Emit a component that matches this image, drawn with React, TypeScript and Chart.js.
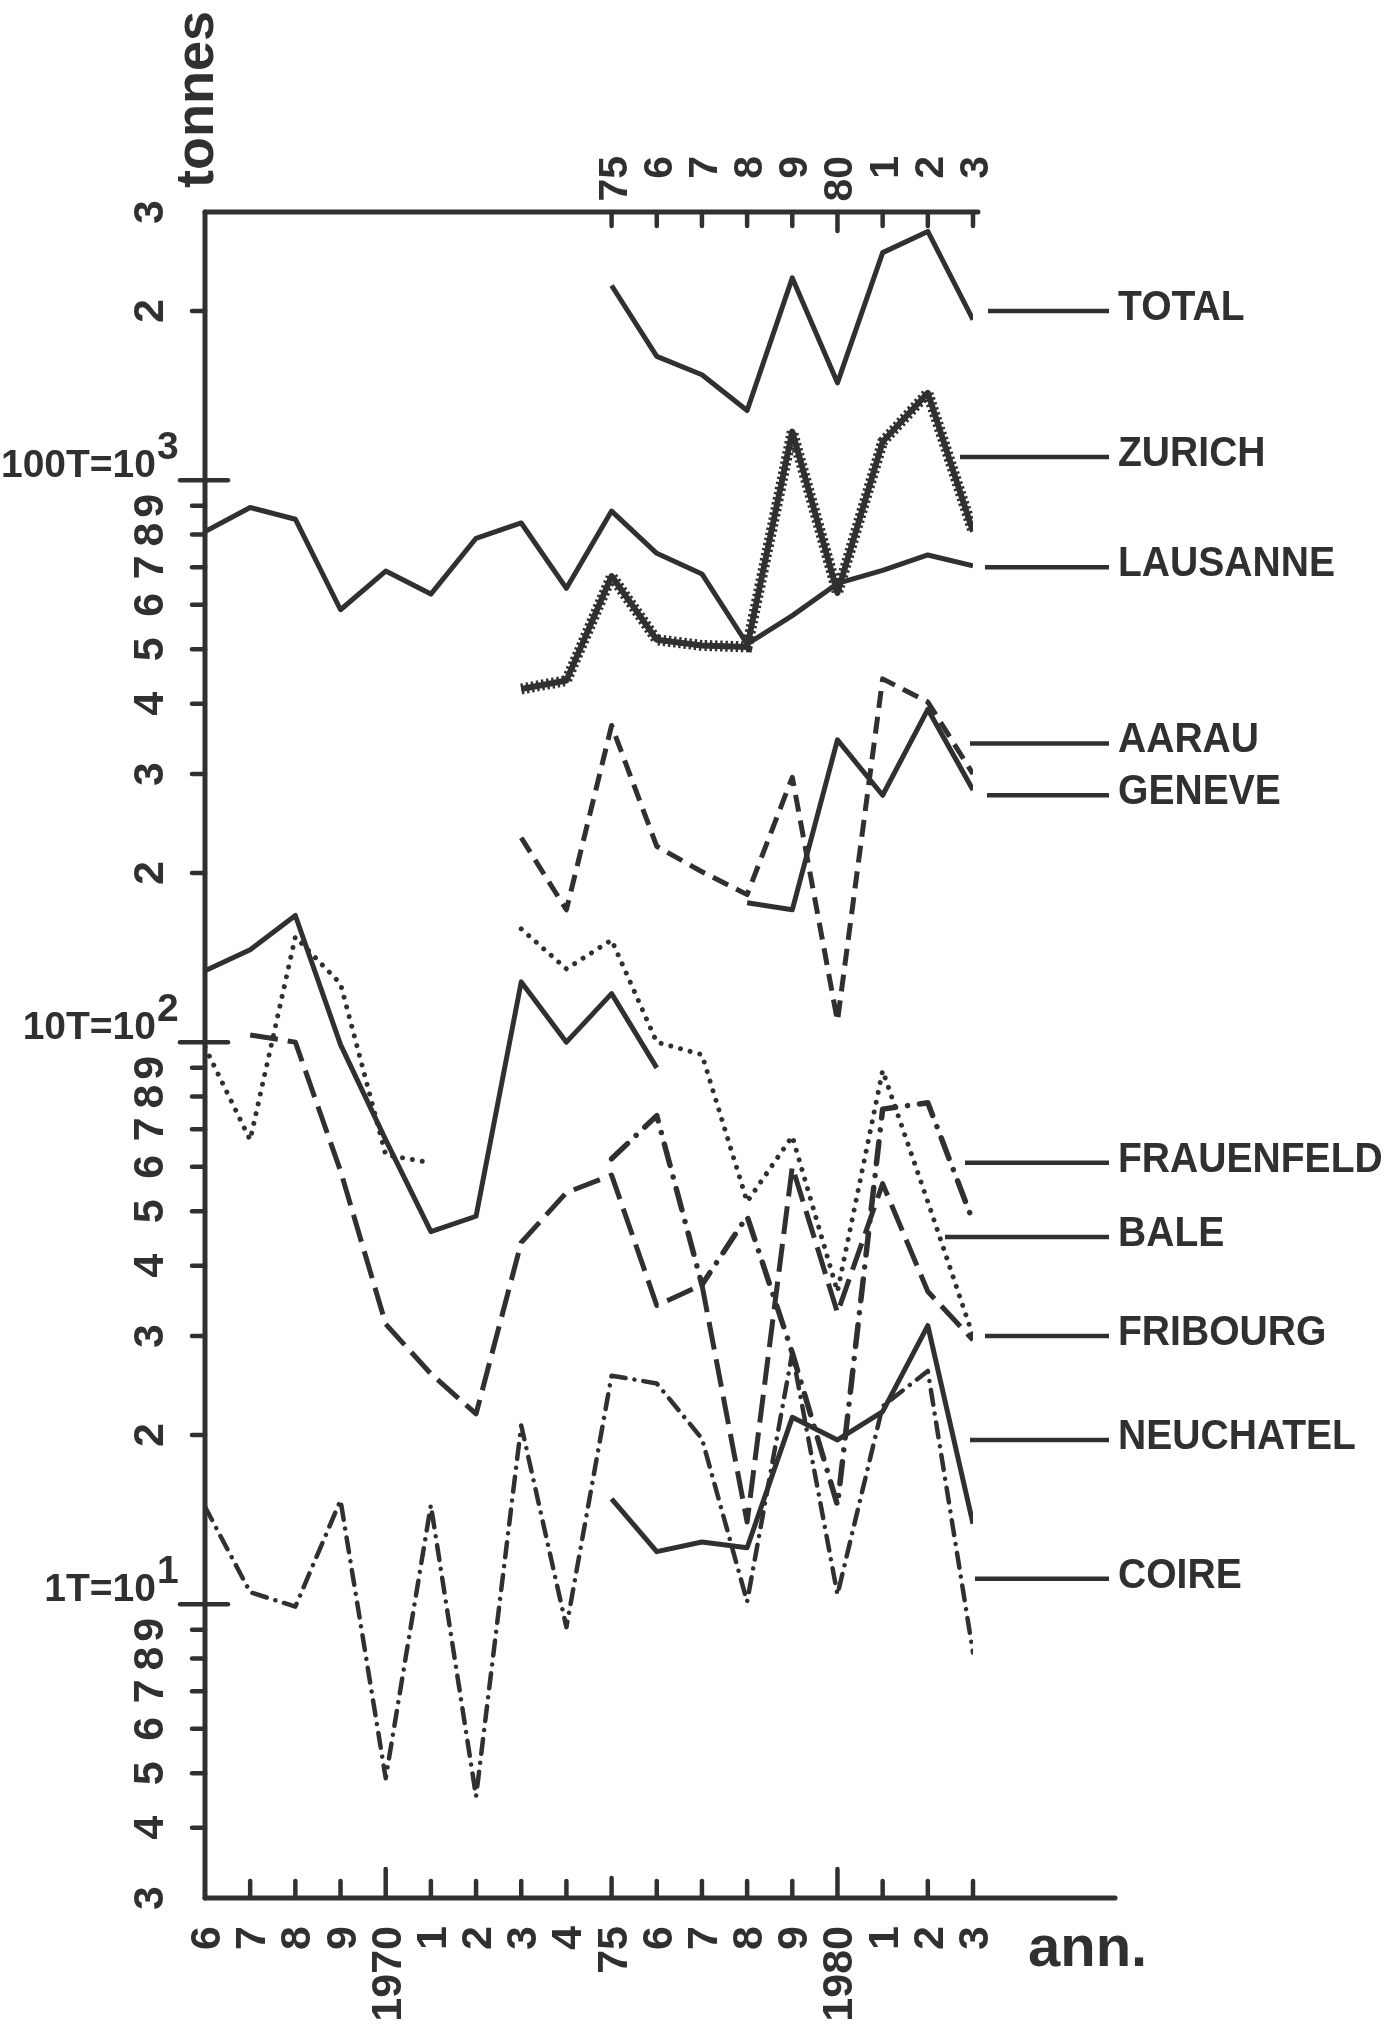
import React, { useEffect, useRef } from "react";
import { Chart, registerables } from "chart.js";

Chart.register(...registerables);

// ---------- data (units: 1 = 100 kg, i.e. 1T = 10^1) ----------
const years = [1966, 1967, 1968, 1969, 1970, 1971, 1972, 1973, 1974, 1975, 1976, 1977, 1978, 1979, 1980, 1981, 1982, 1983];
const bottomTickLabels = ["6", "7", "8", "9", "1970", "1", "2", "3", "4", "75", "6", "7", "8", "9", "1980", "1", "2", "3"];
const topTickYears = [1975, 1976, 1977, 1978, 1979, 1980, 1981, 1982, 1983];
const topTickLabels = ["75", "6", "7", "8", "9", "80", "1", "2", "3"];
const yTickValues = [3, 4, 5, 6, 7, 8, 9, 10, 20, 30, 40, 50, 60, 70, 80, 90, 100, 200, 300, 400, 500, 600, 700, 800, 900, 1000, 2000, 3000];
const yTickLabels = ["3", "4", "5", "6", "7", "8", "9", "1T=10^1", "2", "3", "4", "5", "6", "7", "8", "9", "10T=10^2", "2", "3", "4", "5", "6", "7", "8", "9", "100T=10^3", "2", "3"];

const total = [null, null, null, null, null, null, null, null, null, 2220, 1660, 1540, 1330, 2290, 1490, 2540, 2770, 1930];
const zurich = [null, null, null, null, null, null, null, 425, 440, 675, 520, 508, 505, 1220, 630, 1170, 1430, 810];
const lausanne = [810, 894, 852, 588, 689, 627, 788, 839, 642, 881, 741, 681, 511, 574, 655, 691, 736, 704];
const aarau = [null, null, null, null, null, null, null, 231, 172, 366, 223, 201, 183, 296, 109, 443, 403, 300];
const geneve = [134, 146, 168, 99, 67, 46, 49, 128, 100, 122, 90, null, 177, 172, 345, 275, 391, 281];
const frauenfeld = [null, null, null, null, null, null, null, null, null, 62, 74, 37, 49, 28, 15, 76, 78, 48];
const bale = [98, 67, 154, 127, 63, 61, null, 159, 135, 152, 100, 95, 52, 68, 36, 89, 52, 30];
const fribourg = [null, 103, 100, 59, 31.5, 25.7, 21.8, 44, 54, 58, 34, 37, 14, 60, 33, 56, 36, 29.5];
const neuchatel = [null, null, null, null, null, null, null, null, null, 15.4, 12.4, 12.9, 12.6, 21.5, 19.6, 22, 31.3, 13.9];
const coire = [14.9, 10.5, 9.9, 15.3, 4.9, 15, 4.55, 20.8, 9.1, 25.5, 24.7, 19.7, 10.1, 28, 10.4, 22.5, 26, 8.2];

const seriesNames = ["TOTAL", "ZURICH", "LAUSANNE", "AARAU", "GENEVE", "FRAUENFELD", "BALE", "FRIBOURG", "NEUCHATEL", "COIRE"];
// level (axis units) at which each name's leader line sits
const labelLevels = [2000, 1100, 700, 340, 275, 61, 45, 30, 19.6, 11.1];

// ---------- style ----------
const INK = "#303030";
const FONT = "'Liberation Sans', Arial, Helvetica, sans-serif";
const leaderStart = [15, -13, 12, -3, 14, -8, -28, 12, -3, 2];

function pts(vals: (number | null)[]) {
  return years.map((x, i) => ({ x, y: vals[i] }));
}

function line(ctx: CanvasRenderingContext2D, x1: number, y1: number, x2: number, y2: number) {
  ctx.beginPath();
  ctx.moveTo(x1, y1);
  ctx.lineTo(x2, y2);
  ctx.stroke();
}

function rotText(ctx: CanvasRenderingContext2D, text: string, x: number, y: number, font: string, align: CanvasTextAlign) {
  ctx.save();
  ctx.translate(x, y);
  ctx.rotate(-Math.PI / 2);
  ctx.font = font;
  ctx.textAlign = align;
  ctx.textBaseline = "alphabetic";
  ctx.fillText(text, 0, 0);
  ctx.restore();
}

const framePlugin = {
  id: "frame",
  beforeDraw(chart: any) {
    const ctx = chart.ctx as CanvasRenderingContext2D;
    ctx.save();
    ctx.fillStyle = "#ffffff";
    ctx.fillRect(0, 0, chart.width, chart.height);
    ctx.restore();
  },
  afterDraw(chart: any) {
    const ctx = chart.ctx as CanvasRenderingContext2D;
    const a = chart.chartArea;
    const xs = chart.scales.x;
    const ys = chart.scales.y;
    ctx.save();
    ctx.strokeStyle = INK;
    ctx.fillStyle = INK;
    ctx.lineCap = "round";

    // axis lines
    ctx.lineWidth = 5;
    line(ctx, a.left, a.top, a.left, a.bottom);
    line(ctx, a.left, a.top, a.right + 5, a.top);
    line(ctx, a.left, a.bottom, a.right + 142, a.bottom);

    // y ticks and labels
    ctx.lineWidth = 4.5;
    yTickValues.forEach((v, i) => {
      const y = ys.getPixelForValue(v);
      const lab = yTickLabels[i];
      const isDecade = lab.indexOf("^") >= 0;
      if (isDecade) {
        line(ctx, a.left - 25, y, a.left + 23, y);
        const [base, exp] = lab.split("^");
        ctx.font = `bold 39px ${FONT}`;
        ctx.textBaseline = "alphabetic";
        ctx.textAlign = "right";
        ctx.fillText(base, a.left - 49, y - 3);
        ctx.textAlign = "left";
        ctx.fillText(exp, a.left - 48, y - 21);
      } else {
        if (i > 0 && i < yTickValues.length - 1) line(ctx, a.left - 13, y, a.left, y);
        rotText(ctx, lab, a.left - 42, y, `bold 43px ${FONT}`, "center");
      }
    });

    // bottom ticks and labels
    years.forEach((yr, i) => {
      const x = xs.getPixelForValue(yr);
      const len = yr === 1970 || yr === 1980 ? 29 : yr === 1975 ? 20 : 17;
      if (i > 0) line(ctx, x, a.bottom, x, a.bottom - len);
      rotText(ctx, bottomTickLabels[i], x + 15, a.bottom + 28, `bold 43px ${FONT}`, "right");
    });

    // top ticks and labels
    topTickYears.forEach((yr, i) => {
      const x = xs.getPixelForValue(yr);
      const len = yr === 1980 ? 19 : 14;
      line(ctx, x, a.top, x, a.top + len);
      rotText(ctx, topTickLabels[i], x + 15, a.top - 56, `bold 41px ${FONT}`, "right");
    });

    // axis titles
    rotText(ctx, "tonnes", a.left + 8, a.top - 24, `bold 54px ${FONT}`, "left");
    ctx.font = `bold 58px ${FONT}`;
    ctx.textAlign = "left";
    ctx.textBaseline = "alphabetic";
    ctx.fillText("ann.", a.right + 55, a.bottom + 68);

    // series names with leader lines
    ctx.lineWidth = 4.5;
    ctx.lineCap = "butt";
    seriesNames.forEach((name, i) => {
      const y = ys.getPixelForValue(labelLevels[i]);
      line(ctx, a.right + leaderStart[i], y, a.right + 136, y);
      ctx.save();
      ctx.translate(a.right + 145, y + 9);
      ctx.scale(0.93, 1);
      ctx.font = `bold 42px ${FONT}`;
      ctx.textAlign = "left";
      ctx.textBaseline = "alphabetic";
      ctx.fillText(name, 0, 0);
      ctx.restore();
    });

    ctx.restore();
  },
};

export default function App() {
  const ref = useRef<HTMLCanvasElement | null>(null);

  useEffect(() => {
    document.body.style.margin = "0";
    document.body.style.overflow = "hidden";
    const canvas = ref.current;
    if (!canvas) return;

    const base = {
      borderColor: INK,
      borderWidth: 5,
      pointRadius: 0,
      pointHoverRadius: 0,
      fill: false,
      tension: 0,
      spanGaps: false,
      borderJoinStyle: "round" as const,
    };

    const chart = new Chart(canvas, {
      type: "line",
      data: {
        datasets: [
          { ...base, label: "TOTAL", data: pts(total) },
          { ...base, label: "LAUSANNE", data: pts(lausanne) },
          { ...base, label: "ZURICH", data: pts(zurich), borderWidth: 6 },
          { ...base, label: "ZURICH (contour)", data: pts(zurich), borderWidth: 11, borderDash: [2.4, 2.8], borderCapStyle: "butt" as const, borderJoinStyle: "miter" as const },
          { ...base, label: "AARAU", data: pts(aarau), borderDash: [17, 9], borderCapStyle: "butt" as const },
          { ...base, label: "GENEVE", data: pts(geneve) },
          { ...base, label: "FRAUENFELD", data: pts(frauenfeld), borderWidth: 5.5, borderDash: [22, 12, 0.01, 12], borderCapStyle: "round" as const },
          { ...base, label: "BALE", data: pts(bale), borderWidth: 5, borderDash: [0.01, 10], borderCapStyle: "round" as const },
          { ...base, label: "FRIBOURG", data: pts(fribourg), borderDash: [28, 10], borderCapStyle: "butt" as const },
          { ...base, label: "NEUCHATEL", data: pts(neuchatel) },
          { ...base, label: "COIRE", data: pts(coire), borderWidth: 4.5, borderDash: [15, 9, 0.01, 9], borderCapStyle: "round" as const },
        ],
      },
      options: {
        animation: false,
        responsive: false,
        maintainAspectRatio: false,
        events: [],
        layout: { padding: { left: 205, right: 416, top: 212, bottom: 129 } },
        scales: {
          x: { type: "linear", min: 1966, max: 1983, display: false },
          y: { type: "logarithmic", min: 3, max: 3000, display: false },
        },
        plugins: {
          legend: { display: false },
          tooltip: { enabled: false },
        },
      },
      plugins: [framePlugin],
    });

    return () => chart.destroy();
  }, []);

  return (
    <div style={{ width: 1389, height: 2027, background: "#ffffff" }}>
      <canvas ref={ref} width={1389} height={2027} style={{ display: "block" }} />
    </div>
  );
}
